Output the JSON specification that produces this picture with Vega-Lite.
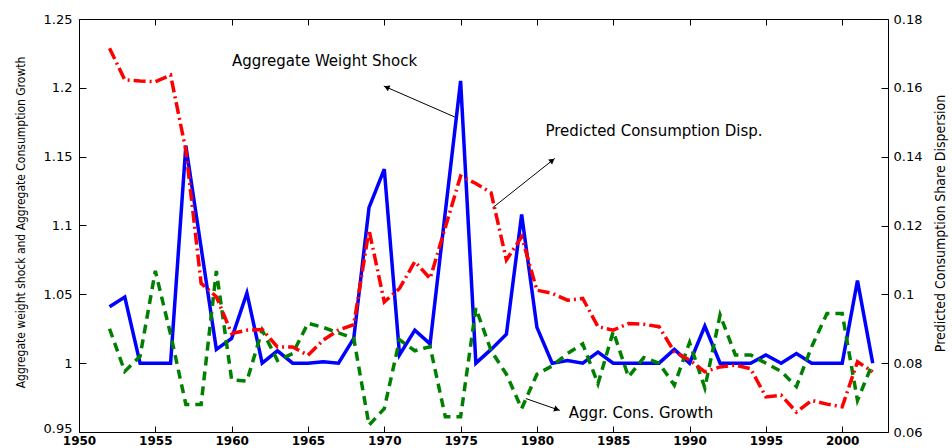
{
  "$schema": "https://vega.github.io/schema/vega-lite/v6.json",
  "width": 809,
  "height": 413,
  "autosize": {"type": "none"},
  "padding": {"left": 79, "top": 19, "right": 64, "bottom": 16},
  "background": "white",
  "config": {
    "view": {"stroke": "black", "strokeWidth": 1},
    "axis": {"grid": false, "domain": false, "tickColor": "black", "tickWidth": 1, "labelColor": "black", "titleColor": "black", "labelFont": "DejaVu Sans", "titleFont": "'DejaVu Sans Condensed', 'Liberation Sans', sans-serif", "titleFontWeight": "normal"}
  },
  "datasets": {
    "series": [
      {"year": 1952, "shock": 1.041, "growth": 1.025, "disp": 0.1715},
      {"year": 1953, "shock": 1.048, "growth": 0.994, "disp": 0.1623},
      {"year": 1954, "shock": 1.000, "growth": 1.005, "disp": 0.1620},
      {"year": 1955, "shock": 1.000, "growth": 1.067, "disp": 0.1618},
      {"year": 1956, "shock": 1.000, "growth": 1.021, "disp": 0.1637},
      {"year": 1957, "shock": 1.158, "growth": 0.970, "disp": 0.1419},
      {"year": 1958, "shock": 1.084, "growth": 0.970, "disp": 0.1032},
      {"year": 1959, "shock": 1.010, "growth": 1.067, "disp": 0.0993},
      {"year": 1960, "shock": 1.018, "growth": 0.988, "disp": 0.0886},
      {"year": 1961, "shock": 1.051, "growth": 0.987, "disp": 0.0896},
      {"year": 1962, "shock": 1.000, "growth": 1.024, "disp": 0.0898},
      {"year": 1963, "shock": 1.009, "growth": 1.002, "disp": 0.0847},
      {"year": 1964, "shock": 1.000, "growth": 1.007, "disp": 0.0847},
      {"year": 1965, "shock": 1.000, "growth": 1.029, "disp": 0.0823},
      {"year": 1966, "shock": 1.001, "growth": 1.026, "disp": 0.0867},
      {"year": 1967, "shock": 1.000, "growth": 1.022, "disp": 0.0896},
      {"year": 1968, "shock": 1.018, "growth": 1.018, "disp": 0.0912},
      {"year": 1969, "shock": 1.113, "growth": 0.955, "disp": 0.1187},
      {"year": 1970, "shock": 1.141, "growth": 0.967, "disp": 0.0978},
      {"year": 1971, "shock": 1.006, "growth": 1.017, "disp": 0.1017},
      {"year": 1972, "shock": 1.024, "growth": 1.009, "disp": 0.1095},
      {"year": 1973, "shock": 1.014, "growth": 1.012, "disp": 0.1046},
      {"year": 1974, "shock": 1.110, "growth": 0.961, "disp": 0.1195},
      {"year": 1975, "shock": 1.205, "growth": 0.961, "disp": 0.1344},
      {"year": 1976, "shock": 1.000, "growth": 1.040, "disp": 0.1322},
      {"year": 1977, "shock": 1.010, "growth": 1.009, "disp": 0.1295},
      {"year": 1978, "shock": 1.021, "growth": 0.992, "disp": 0.1100},
      {"year": 1979, "shock": 1.108, "growth": 0.967, "disp": 0.1167},
      {"year": 1980, "shock": 1.026, "growth": 0.992, "disp": 0.1012},
      {"year": 1981, "shock": 1.000, "growth": 0.998, "disp": 0.1003},
      {"year": 1982, "shock": 1.002, "growth": 1.007, "disp": 0.0983},
      {"year": 1983, "shock": 1.000, "growth": 1.014, "disp": 0.0988},
      {"year": 1984, "shock": 1.008, "growth": 0.985, "disp": 0.0906},
      {"year": 1985, "shock": 1.000, "growth": 1.023, "disp": 0.0896},
      {"year": 1986, "shock": 1.000, "growth": 0.990, "disp": 0.0915},
      {"year": 1987, "shock": 1.000, "growth": 1.004, "disp": 0.0913},
      {"year": 1988, "shock": 1.000, "growth": 1.000, "disp": 0.0906},
      {"year": 1989, "shock": 1.010, "growth": 0.984, "disp": 0.0833},
      {"year": 1990, "shock": 1.000, "growth": 1.015, "disp": 0.0809},
      {"year": 1991, "shock": 1.027, "growth": 0.982, "disp": 0.0775},
      {"year": 1992, "shock": 1.000, "growth": 1.035, "disp": 0.0789},
      {"year": 1993, "shock": 1.000, "growth": 1.006, "disp": 0.0794},
      {"year": 1994, "shock": 1.000, "growth": 1.006, "disp": 0.0784},
      {"year": 1995, "shock": 1.006, "growth": 1.000, "disp": 0.0702},
      {"year": 1996, "shock": 1.000, "growth": 0.994, "disp": 0.0707},
      {"year": 1997, "shock": 1.007, "growth": 0.983, "disp": 0.0658},
      {"year": 1998, "shock": 1.000, "growth": 1.012, "disp": 0.0692},
      {"year": 1999, "shock": 1.000, "growth": 1.036, "disp": 0.0681},
      {"year": 2000, "shock": 1.000, "growth": 1.036, "disp": 0.0673},
      {"year": 2001, "shock": 1.060, "growth": 0.973, "disp": 0.0804},
      {"year": 2002, "shock": 1.000, "growth": 1.000, "disp": 0.0775}
    ],
    "notes": [
      {"label": "Aggregate Weight Shock", "year": 1960.02, "value": 1.216},
      {"label": "Predicted Consumption Disp.", "year": 1980.56, "value": 1.165},
      {"label": "Aggr. Cons. Growth", "year": 1982.09, "value": 0.9604}
    ],
    "arrows": [
      {"id": "shock", "x": 1974.62, "y": 1.1788, "x2": 1969.97, "y2": 1.2013, "hx": 1970.21, "hy": 1.2001},
      {"id": "disp", "x": 1977.09, "y": 1.1128, "x2": 1981.17, "y2": 1.1487, "hx": 1980.96, "hy": 1.1469},
      {"id": "growth", "x": 1979.27, "y": 0.9743, "x2": 1981.5, "y2": 0.9657, "hx": 1981.25, "hy": 0.9667}
    ]
  },
  "resolve": {"scale": {"x": "independent", "y": "independent"}},
  "layer": [
    {
      "encoding": {
        "x": {"field": "year", "type": "quantitative", "scale": {"domain": [1950, 2003], "nice": false, "zero": false},
              "axis": {"orient": "bottom", "title": null, "values": [1950,1955,1960,1965,1970,1975,1980,1985,1990,1995,2000], "format": "d", "tickSize": -6, "labelPadding": 9, "labelFontSize": 12, "labelFontWeight": "bold", "labelFlush": false}}
      },
      "layer": [
        {
          "data": {"name": "series"},
          "mark": {"type": "line", "color": "#0000FF", "strokeWidth": 3.5},
          "encoding": {
            "y": {"field": "shock", "type": "quantitative", "scale": {"domain": [0.95, 1.25], "nice": false, "zero": false},
                  "axis": {"orient": "left", "values": [0.95,1,1.05,1.1,1.15,1.2,1.25], "format": "~g", "tickSize": -7, "labelPadding": 14, "labelFontSize": 13, "labelFlush": false,
                           "labelBaseline": {"condition": {"test": "datum.value < 0.96", "value": "alphabetic"}, "value": "middle"},
                           "title": "Aggregate weight shock and Aggregate Consumption Growth", "titleFontSize": 12, "titleAngle": 270, "titleX": -59, "titleY": 203, "titleAlign": "center", "titleBaseline": "middle"}}
          }
        },
        {
          "data": {"name": "series"},
          "mark": {"type": "line", "color": "#008000", "strokeWidth": 3.5, "strokeDash": [9, 6]},
          "encoding": {"y": {"field": "growth", "type": "quantitative"}}
        },
        {
          "data": {"name": "arrows"},
          "mark": {"type": "rule", "color": "black", "strokeWidth": 1},
          "encoding": {
            "y": {"field": "y", "type": "quantitative"},
            "x": {"field": "x", "type": "quantitative"},
            "x2": {"field": "x2"},
            "y2": {"field": "y2"}
          }
        },
        {
          "data": {"name": "arrows"},
          "transform": [{"filter": "datum.id === 'shock'"}],
          "mark": {"type": "point", "shape": "triangle", "filled": true, "color": "black", "size": 40, "angle": 293.6, "opacity": 1},
          "encoding": {"x": {"field": "hx", "type": "quantitative"}, "y": {"field": "hy", "type": "quantitative"}}
        },
        {
          "data": {"name": "arrows"},
          "transform": [{"filter": "datum.id === 'disp'"}],
          "mark": {"type": "point", "shape": "triangle", "filled": true, "color": "black", "size": 40, "angle": 51.6, "opacity": 1},
          "encoding": {"x": {"field": "hx", "type": "quantitative"}, "y": {"field": "hy", "type": "quantitative"}}
        },
        {
          "data": {"name": "arrows"},
          "transform": [{"filter": "datum.id === 'growth'"}],
          "mark": {"type": "point", "shape": "triangle", "filled": true, "color": "black", "size": 40, "angle": 109, "opacity": 1},
          "encoding": {"x": {"field": "hx", "type": "quantitative"}, "y": {"field": "hy", "type": "quantitative"}}
        },
        {
          "data": {"name": "notes"},
          "mark": {"type": "text", "align": "left", "baseline": "alphabetic", "font": "DejaVu Sans", "fontSize": 15, "color": "black"},
          "encoding": {
            "x": {"field": "year", "type": "quantitative"},
            "y": {"field": "value", "type": "quantitative"},
            "text": {"field": "label"}
          }
        }
      ]
    },
    {
      "data": {"name": "series"},
      "mark": {"type": "line", "color": "#FF0000", "strokeWidth": 3.5, "strokeDash": [12, 4, 2, 4]},
      "encoding": {
        "x": {"field": "year", "type": "quantitative", "scale": {"domain": [1950, 2003], "nice": false, "zero": false},
              "axis": {"orient": "top", "title": null, "labels": false, "values": [1950,1955,1960,1965,1970,1975,1980,1985,1990,1995,2000], "tickSize": -6}},
        "y": {"field": "disp", "type": "quantitative", "scale": {"domain": [0.06, 0.18], "nice": false, "zero": false},
              "axis": {"orient": "right", "values": [0.06,0.08,0.1,0.12,0.14,0.16,0.18], "format": "~g", "tickSize": -7, "labelPadding": 12, "labelFontSize": 13, "labelFlush": false,
                       "title": "Predicted Consumption Share Dispersion", "titleFontSize": 14, "titleAngle": 270, "titleX": 52, "titleY": 204, "titleAlign": "center", "titleBaseline": "middle"}}
      }
    }
  ]
}
